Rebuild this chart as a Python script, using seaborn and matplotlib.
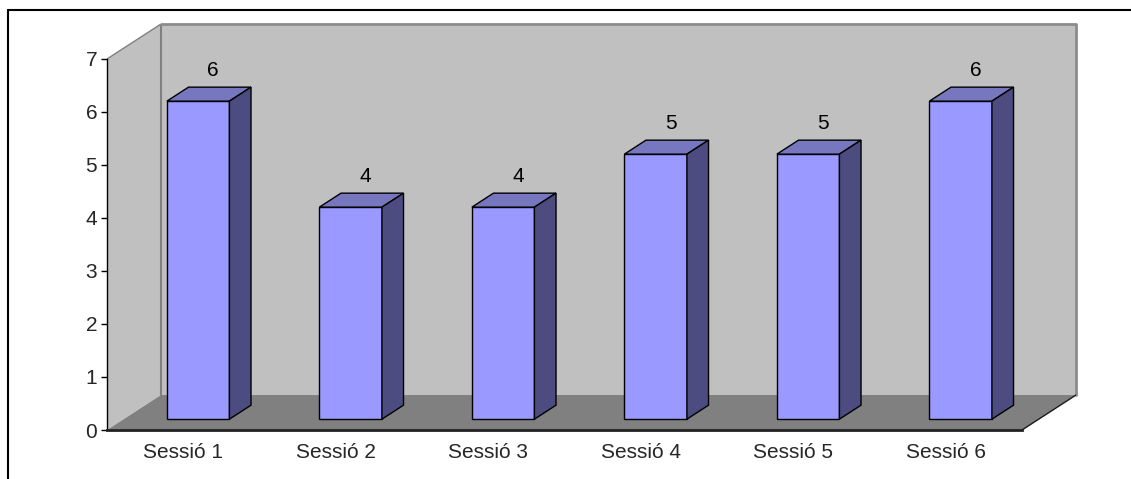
import matplotlib
matplotlib.use('Agg')
import matplotlib.pyplot as plt
from matplotlib.patches import Polygon
from matplotlib.lines import Line2D
import seaborn as sns
import pandas as pd

SESSIONS = ['Sessió 1', 'Sessió 2', 'Sessió 3', 'Sessió 4', 'Sessió 5', 'Sessió 6']
VALUES = [6, 4, 4, 5, 5, 6]
Y_TICKS = [0, 1, 2, 3, 4, 5, 6, 7]

# depth of the fake 3d box, in data units
DX = 0.354
DY = 0.66
BAR_FRONT = 0.31
BAR_BACK = 0.71

FRONT = '#9999FF'
TOP = '#7777BF'
SIDE = '#4C4C80'
FS = 15

sns.set_style('white')
plt.rcParams['font.family'] = ['Liberation Sans', 'DejaVu Sans']

fig = plt.figure(figsize=(11.31, 4.79), dpi=100)
ax = fig.add_axes([107 / 1131, 49 / 479, 969 / 1131, 406 / 479])

df = pd.DataFrame({'session': SESSIONS, 'value': VALUES})
sns.barplot(data=df, x='session', y='value', color=FRONT, saturation=1,
            width=0.41, edgecolor='black', linewidth=1, ax=ax, zorder=3)

n = len(SESSIONS)
x0, x1 = -0.5, n - 0.5

# walls and floor
ax.add_patch(Polygon([(x0 + DX, DY), (x1 + DX, DY), (x1 + DX, 7 + DY), (x0 + DX, 7 + DY)],
                     closed=True, facecolor='#C0C0C0', edgecolor='none', zorder=0))
ax.add_patch(Polygon([(x0, 0), (x0 + DX, DY), (x0 + DX, 7 + DY), (x0, 7)],
                     closed=True, facecolor='#C0C0C0', edgecolor='none', zorder=0))
ax.add_patch(Polygon([(x0, 0), (x1, 0), (x1 + DX, DY), (x0 + DX, DY)],
                     closed=True, facecolor='#808080', edgecolor='none', zorder=1))
ax.plot([x0, x0 + DX], [7, 7 + DY], color='#808080', lw=1, zorder=1)
ax.plot([x0 + DX, x0 + DX], [DY, 7 + DY], color='#808080', lw=1.5, zorder=1)
ax.plot([x0 + DX, x1 + DX, x1 + DX], [7 + DY, 7 + DY, DY], color='#8C8C8C', lw=2,
        zorder=1, clip_on=False)
ax.plot([x1, x1 + DX], [0, DY], color='#1A1A1A', lw=1, zorder=2)

# turn the flat bars into boxes
dx0, dy0 = BAR_FRONT * DX, BAR_FRONT * DY
bdx, bdy = (BAR_BACK - BAR_FRONT) * DX, (BAR_BACK - BAR_FRONT) * DY
for p, v in zip(ax.patches[:n], VALUES):
    p.set_x(p.get_x() + dx0 - 0.012)
    p.set_y(dy0)
    left = p.get_x()
    right = left + p.get_width()
    top = dy0 + v
    ax.add_patch(Polygon([(left, top), (right, top), (right + bdx, top + bdy), (left + bdx, top + bdy)],
                         closed=True, facecolor=TOP, edgecolor='black', lw=1, zorder=3))
    ax.add_patch(Polygon([(right, dy0), (right + bdx, dy0 + bdy), (right + bdx, top + bdy), (right, top)],
                         closed=True, facecolor=SIDE, edgecolor='black', lw=1, zorder=3))
    ax.text((left + right) / 2 + 0.7 * bdx, top + bdy + 0.14, str(v), ha='center', va='bottom',
            fontsize=FS, color='black', zorder=4)

ax.set_xlim(x0, x1 + DX)
ax.set_ylim(0, 7 + DY)
ax.set_xlabel('')
ax.set_ylabel('')

ax.set_yticks(Y_TICKS)
ax.set_yticklabels([str(t) for t in Y_TICKS], fontsize=FS)
ax.set_xticks(range(n))
ax.set_xticklabels(SESSIONS, fontsize=FS)
ax.set_xticks([i - 0.5 for i in range(n + 1)], minor=True)
ax.tick_params(axis='x', which='major', length=0, pad=9)
ax.tick_params(axis='x', which='minor', length=6, width=1, color='#333333', direction='out')
ax.tick_params(axis='y', length=4, width=1, color='black', direction='out', left=True, pad=3)

for s in ['top', 'right']:
    ax.spines[s].set_visible(False)
ax.spines['left'].set_bounds(0, 7)
ax.spines['left'].set_color('black')
ax.spines['left'].set_linewidth(1)
ax.spines['bottom'].set_bounds(x0, x1)
ax.spines['bottom'].set_color('#222222')
ax.spines['bottom'].set_linewidth(2)
ax.patch.set_alpha(0)

# outer chart frame
fig.add_artist(Line2D([8 / 1131, 8 / 1131], [0, 1 - 10 / 479], color='black', lw=1.5))
fig.add_artist(Line2D([8 / 1131, 1], [1 - 10 / 479, 1 - 10 / 479], color='black', lw=1.5))

fig.savefig('out.png', dpi=100)
